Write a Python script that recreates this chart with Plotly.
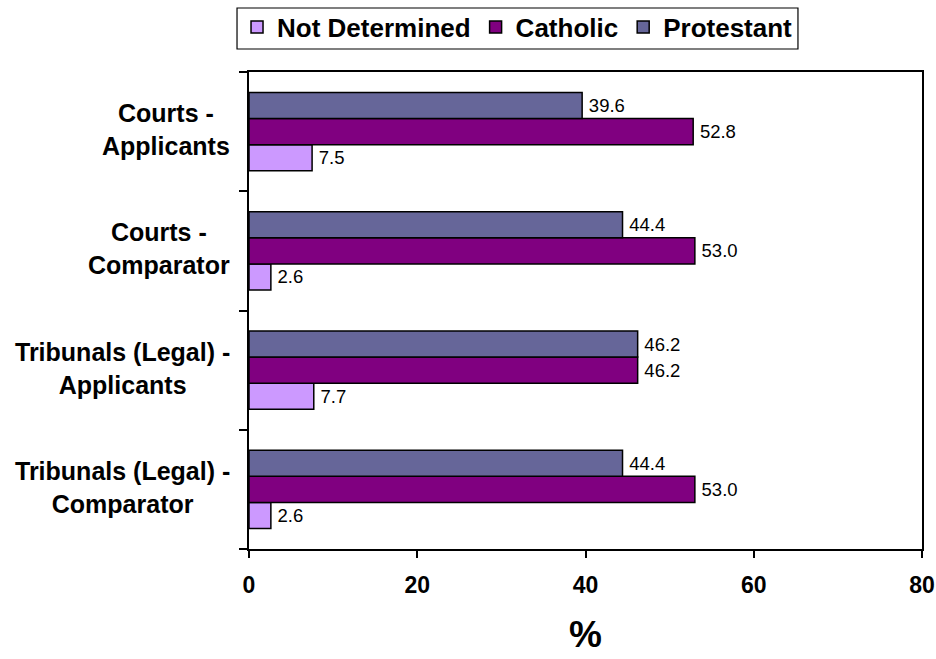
import plotly.graph_objects as go

categories = [
    "Courts - Applicants",
    "Courts - Comparator",
    "Tribunals (Legal) - Applicants",
    "Tribunals (Legal) - Comparator",
]
category_labels = [
    "Courts -<br>Applicants",
    "Courts -<br>Comparator",
    "Tribunals (Legal) -<br>Applicants",
    "Tribunals (Legal) -<br>Comparator",
]
series_names = ["Not Determined", "Catholic", "Protestant"]
not_determined = [7.5, 2.6, 7.7, 2.6]
catholic = [52.8, 53.0, 46.2, 53.0]
protestant = [39.6, 44.4, 46.2, 44.4]
colors = ["#CC99FF", "#800080", "#666699"]
x_ticks = [0, 20, 40, 60, 80]
x_title = "%"

FONT = "Liberation Sans, Arial, sans-serif"

fig = go.Figure()
for name, vals, col in zip(series_names, [not_determined, catholic, protestant], colors):
    fig.add_trace(go.Bar(
        y=categories, x=vals, name=name, orientation="h",
        marker=dict(color=col, line=dict(color="black", width=1.5)),
        text=[f"\u2009{v:.1f}" for v in vals], textposition="outside",
        textfont=dict(family=FONT, size=18.5, color="black"),
        cliponaxis=False,
    ))

for cat, lab in zip(categories, category_labels):
    fig.add_annotation(
        x=-0.025, xref="paper", y=cat, yref="y", text=lab, yshift=2,
        xanchor="right", yanchor="middle", align="center", showarrow=False,
        font=dict(family=FONT, size=25, color="black", weight="bold"),
    )

# x-axis title
fig.add_annotation(
    x=0.5, xref="paper", y=-0.179, yref="paper", text=x_title,
    xanchor="center", yanchor="middle", showarrow=False,
    font=dict(family=FONT, size=37, color="black", weight="bold"),
)

# legend frame
fig.add_shape(
    type="rect", xref="paper", yref="paper",
    x0=-0.0178, x1=0.8157, y0=1.0482, y1=1.1342,
    line=dict(color="black", width=1.2), fillcolor="rgba(0,0,0,0)", layer="above",
)

fig.update_layout(
    width=936, height=659,
    margin=dict(l=249, r=14, t=72, b=110, autoexpand=False),
    paper_bgcolor="white", plot_bgcolor="white",
    barmode="group", bargap=0.345, bargroupgap=0,
    showlegend=True,
    legend=dict(
        orientation="h", x=0.399, xanchor="center", y=1.1436, yanchor="top",
        borderwidth=0, bgcolor="rgba(0,0,0,0)",
        font=dict(family=FONT, size=26, color="black", weight="bold"),
        itemwidth=30, tracegroupgap=0,
    ),
    xaxis=dict(
        range=[0, 80], tickvals=x_ticks, ticks="outside", ticklen=7,
        tickcolor="black", tickwidth=1.5, ticklabelstandoff=7,
        showline=True, linecolor="black", linewidth=2, mirror=True,
        showgrid=False, zeroline=False, automargin=False,
        tickfont=dict(family=FONT, size=23, color="black", weight="bold"),
    ),
    yaxis=dict(
        categoryorder="array", categoryarray=categories[::-1],
        tickson="boundaries", ticks="outside", ticklen=8, tickcolor="black", tickwidth=1.5,
        showticklabels=False, automargin=False,
        showline=True, linecolor="black", linewidth=2, mirror=True,
        showgrid=False, zeroline=False,
    ),
)

fig.write_html(
    "out.html",
    config={"displayModeBar": False},
    post_script="document.body.style.margin='0';document.body.style.padding='0';",
)
